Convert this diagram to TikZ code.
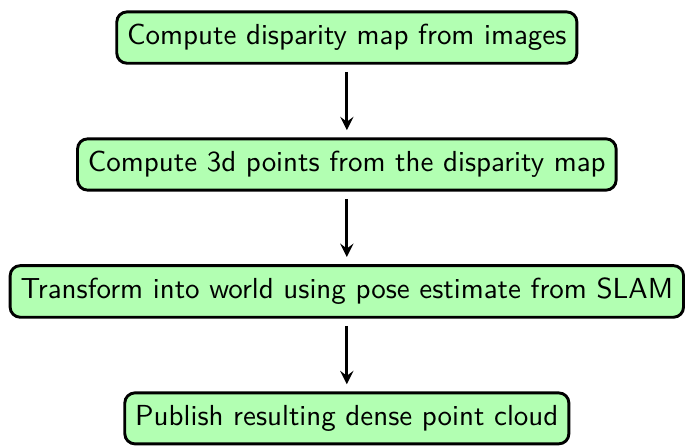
\documentclass[tikz,border=0pt]{standalone}
\usepackage{tikz}
\usetikzlibrary{positioning,arrows,calc}

\begin{document}
\begin{tikzpicture}[node distance=1.54cm, on grid, font=\sffamily,
  stage/.style={draw, line width=1pt, rounded corners=3.5pt, fill=green!30, inner xsep=3.6pt, inner ysep=4.3pt},
  flow/.style={->, >=stealth, line width=1pt, shorten >=2.5pt, shorten <=2.5pt}]
\node [stage] (disp) {Compute disparity map from images};
\node [stage] (pts) [below = of disp] {Compute 3d points from the disparity map};
\node [stage] (world) [below = of pts] {Transform into world using pose estimate from SLAM};
\node [stage] (cloud) [below = of world] {Publish resulting dense point cloud};
\path [flow]
(disp) edge (pts)
(pts) edge (world)
(world) edge (cloud);
% frame as in the original: slightly cut on the right
\useasboundingbox ($(world.west |- disp.north)+(-3pt,3.6pt)$) rectangle ($(world.east |- cloud.south)+(-1.5pt,-0.4pt)$);
\end{tikzpicture}
\end{document}
